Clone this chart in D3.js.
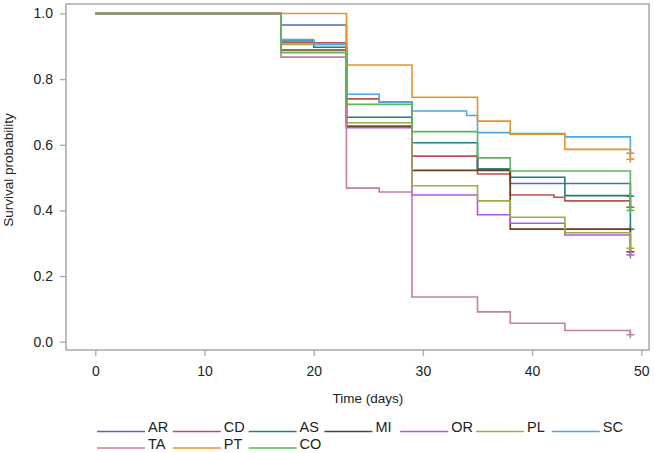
<!DOCTYPE html>
<html><head><meta charset="utf-8">
<script src="https://cdn.jsdelivr.net/npm/d3@7"></script>
<style>body{margin:0;background:#fff}svg{display:block}</style>
</head><body>
<svg id="c" width="654" height="453"></svg>
<script>
const groups = ["AR","CD","AS","MI","OR","PL","SC","TA","PT","CO"];
const colors = ["#4f6bb3","#c0504d","#1f7f79","#6a3d1f","#b456e0","#9fab48","#4ea6e4","#c77d9d","#e8922c","#5cb65a"];
const times = {
  AR:[0,17,23,29,35,38,49],
  CD:[0,17,23,26,29,35,38,42,43,49],
  AS:[0,17,20,23,29,35,38,43,49],
  MI:[0,17,23,29,38,49],
  OR:[0,17,23,29,35,38,43,49],
  PL:[0,17,23,29,35,38,43,49],
  SC:[0,17,20,23,26,29,34,35,38,43,49],
  TA:[0,17,23,26,29,35,38,43,49],
  PT:[0,23,29,35,38,43,49],
  CO:[0,17,23,29,35,38,49]
};
const surv = {
  AR:[1,0.965,0.657,0.565,0.526,0.482,0.443],
  CD:[1,0.911,0.740,0.730,0.565,0.511,0.447,0.440,0.429,0.410],
  AS:[1,0.916,0.897,0.684,0.606,0.526,0.501,0.445,0.343],
  MI:[1,0.889,0.655,0.522,0.343,0.274],
  OR:[1,0.881,0.652,0.447,0.387,0.361,0.325,0.264],
  PL:[1,0.906,0.667,0.475,0.429,0.379,0.332,0.285],
  SC:[1,0.921,0.906,0.754,0.730,0.703,0.689,0.637,0.634,0.624,0.574],
  TA:[1,0.867,0.468,0.456,0.136,0.091,0.056,0.034,0.021],
  PT:[1,0.843,0.745,0.672,0.632,0.586,0.556],
  CO:[1,0.881,0.723,0.640,0.560,0.520,0.400]
};
const xTicks = [0,10,20,30,40,50];
const yTicks = [0,0.2,0.4,0.6,0.8,1.0];

const svg = d3.select("#c");
const x = d3.scaleLinear().domain([0,50]).range([95.3,641.3]);
const y = d3.scaleLinear().domain([0,1]).range([341.7,13.5]);
const frame = {l:66,r:649,t:4,b:350};
const axisCol = "#a8a8a8";
const txtCol = "#222";
const font = "Liberation Sans, Arial, sans-serif";

svg.append("rect").attr("x",frame.l).attr("y",frame.t)
  .attr("width",frame.r-frame.l).attr("height",frame.b-frame.t)
  .attr("fill","none").attr("stroke",axisCol).attr("stroke-width",1.5);

const ya = svg.append("g").attr("transform",`translate(${frame.l},0)`)
  .call(d3.axisLeft(y).tickValues(yTicks).tickFormat(d3.format(".1f")).tickSize(6).tickPadding(7));
ya.select(".domain").remove();
ya.selectAll("line").attr("stroke",axisCol).attr("stroke-width",1.3);
ya.selectAll("text").attr("font-family",font).attr("font-size",14).attr("fill",txtCol);

const xa = svg.append("g").attr("transform",`translate(0,${frame.b})`)
  .call(d3.axisBottom(x).tickValues(xTicks).tickSize(6).tickPadding(10));
xa.select(".domain").remove();
xa.selectAll("line").attr("stroke",axisCol).attr("stroke-width",1.3);
xa.selectAll("text").attr("font-family",font).attr("font-size",14).attr("fill",txtCol);

svg.append("text").attr("x",368).attr("y",403).attr("text-anchor","middle")
  .attr("font-family",font).attr("font-size",13.5).attr("fill",txtCol).text("Time (days)");
svg.append("text").attr("transform","translate(13,170) rotate(-90)").attr("text-anchor","middle")
  .attr("font-family",font).attr("font-size",13.5).attr("fill",txtCol).text("Survival probability");

const line = d3.line().x(d=>x(d[0])).y(d=>y(d[1])).curve(d3.curveStepAfter);
groups.forEach((g,i)=>{
  const pts = times[g].map((t,k)=>[t,surv[g][k]]);
  svg.append("path").attr("d",line(pts)).attr("fill","none")
    .attr("stroke",colors[i]).attr("stroke-width",1.6);
  const last = pts[pts.length-1];
  const cx = x(last[0]), cy = y(last[1]);
  svg.append("path").attr("d",`M${cx-4},${cy}H${cx+4}M${cx},${cy-3.5}V${cy+3.5}`)
    .attr("stroke",colors[i]).attr("stroke-width",1.5).attr("fill","none");
});

const leg = svg.append("g");
groups.forEach((g,i)=>{
  const row = i<7?0:1, col = i<7?i:i-7;
  const lx = 97 + 75.8*col;
  const ly = row===0?431.5:448;
  leg.append("line").attr("x1",lx).attr("x2",lx+48).attr("y1",ly).attr("y2",ly)
    .attr("stroke",colors[i]).attr("stroke-width",1.5);
  leg.append("text").attr("x",lx+51).attr("y",ly+0.5).attr("font-family",font)
    .attr("font-size",14.5).attr("fill",txtCol).text(g);
});
</script>
</body></html>
